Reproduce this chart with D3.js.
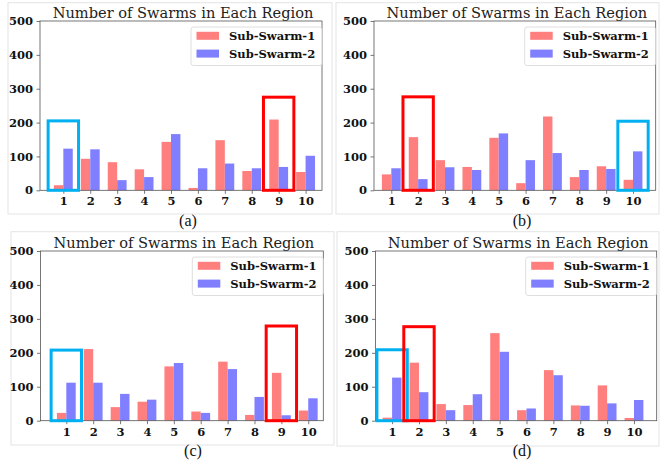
<!DOCTYPE html>
<html>
<head>
<meta charset="utf-8">
<script src="https://cdn.jsdelivr.net/npm/d3@7"></script>
<style>
  html, body { margin: 0; padding: 0; background: #fff; }
  svg { display: block; }
</style>
</head>
<body>
<svg id="chart" width="668" height="462"></svg>
<script>
// ---------------- data ----------------
const regions = [1, 2, 3, 4, 5, 6, 7, 8, 9, 10];
const seriesNames = ["Sub-Swarm-1", "Sub-Swarm-2"];
const yTicks = [0, 100, 200, 300, 400, 500];
const chartTitle = "Number of Swarms in Each Region";
const captions = ["(a)", "(b)", "(c)", "(d)"];

const swarm1A = [15, 93, 83, 62, 143, 7, 148, 57, 209, 54];
const swarm2A = [123, 121, 30, 39, 166, 65, 79, 65, 69, 102];
const swarm1B = [47, 157, 89, 69, 155, 21, 218, 39, 71, 31];
const swarm2B = [65, 33, 68, 60, 168, 89, 110, 60, 63, 115];
const swarm1C = [23, 211, 40, 56, 160, 27, 174, 17, 141, 30];
const swarm2C = [112, 112, 79, 62, 170, 23, 152, 70, 16, 66];
const swarm1D = [9, 171, 49, 46, 258, 31, 149, 45, 104, 8];
const swarm2D = [127, 84, 31, 78, 203, 36, 134, 44, 51, 61];

// highlight boxes: [region, top value]
const blueBoxA = [1, 205], redBoxA = [9, 275];
const blueBoxB = [10, 204], redBoxB = [2, 276];
const blueBoxC = [1, 208], redBoxC = [9, 279];
const blueBoxD = [1, 209], redBoxD = [2, 277];

// ---------------- layout ----------------
const panels = [
  { s1: swarm1A, s2: swarm2A, boxes: [[blueBoxA, "#00b0f0"], [redBoxA, "#ff0000"]],
    frame: [8, 2.7, 332, 214], plot: [40, 21, 322, 190.3], xdom: [0.133, 10.61], cap: [188, 221] },
  { s1: swarm1B, s2: swarm2B, boxes: [[blueBoxB, "#00b0f0"], [redBoxB, "#ff0000"]],
    frame: [336, 2.7, 659, 214], plot: [374, 21, 655.7, 190.3], xdom: [0.356, 10.845], cap: [522, 221] },
  { s1: swarm1C, s2: swarm2C, boxes: [[blueBoxC, "#00b0f0"], [redBoxC, "#ff0000"]],
    frame: [11, 231.7, 334, 445], plot: [40.5, 251, 323.3, 420.7], xdom: [0.04, 10.56], cap: [193, 450.5] },
  { s1: swarm1D, s2: swarm2D, boxes: [[blueBoxD, "#00b0f0"], [redBoxD, "#ff0000"]],
    frame: [337, 231.7, 659, 446], plot: [375.5, 251, 656.7, 420.7], xdom: [0.382, 10.845], cap: [522, 450.5] }
];

const colors = ["#ff7f7f", "#7f7fff"];
const barW = 0.35;
const serif = "'DejaVu Serif', serif";
const svg = d3.select("#chart");

panels.forEach((p, idx) => {
  const [x0, y0, x1, y1] = p.plot;
  const g = svg.append("g");

  // frame of sub-figure
  g.append("rect")
    .attr("x", p.frame[0]).attr("y", p.frame[1])
    .attr("width", p.frame[2] - p.frame[0]).attr("height", p.frame[3] - p.frame[1])
    .attr("fill", "none").attr("stroke", "#e4e4e4").attr("stroke-width", 1);

  const x = d3.scaleLinear().domain(p.xdom).range([x0, x1]);
  const y = d3.scaleLinear().domain([0, 500]).range([y1, y0]);

  // bars
  [p.s1, p.s2].forEach((vals, si) => {
    g.selectAll(null).data(vals).enter().append("rect")
      .attr("x", (d, i) => x(regions[i] + (si === 0 ? -barW : 0)))
      .attr("width", (d, i) => x(regions[i] + barW) - x(regions[i]))
      .attr("y", d => y(d))
      .attr("height", d => y(0) - y(d))
      .attr("fill", colors[si]);
  });

  // axes
  const yAxis = d3.axisLeft(y).tickValues(yTicks).tickSize(3.5).tickPadding(3.5).tickSizeOuter(0);
  const xAxis = d3.axisBottom(x).tickValues(regions).tickSize(3.5).tickPadding(3.5).tickSizeOuter(0)
    .tickFormat(d3.format("d"));
  const ya = g.append("g").attr("transform", `translate(${x0},0)`).call(yAxis);
  const xa = g.append("g").attr("transform", `translate(0,${y1})`).call(xAxis);
  [ya, xa].forEach(a => {
    a.select(".domain").remove();
    a.selectAll("line").attr("stroke", "#555").attr("stroke-width", 0.8);
    a.selectAll("text").attr("fill", "#111").style("font-family", serif)
      .style("font-weight", "bold").style("font-size", "11.5px");
  });
  // spines
  g.append("rect").attr("x", x0).attr("y", y0).attr("width", x1 - x0).attr("height", y1 - y0)
    .attr("fill", "none").attr("stroke", "#555").attr("stroke-width", 0.8);

  // highlight boxes
  p.boxes.forEach(([b, col]) => {
    g.append("rect")
      .attr("x", x(b[0] - 0.565)).attr("width", x(b[0] + 0.565) - x(b[0] - 0.565))
      .attr("y", y(b[1])).attr("height", y(0) - y(b[1]))
      .attr("fill", "none").attr("stroke", col).attr("stroke-width", 3);
  });

  // title
  g.append("text").attr("x", (x0 + x1) / 2 + 2).attr("y", y0 - 3.5)
    .attr("text-anchor", "middle")
    .style("font-family", serif).style("font-size", "14.6px").attr("fill", "#222")
    .text(chartTitle);

  // legend
  const lw = 131, lh = 38.5;
  const lx = x1 - lw, ly = y0 + 6;
  const leg = g.append("g");
  leg.append("rect").attr("x", lx).attr("y", ly).attr("width", lw).attr("height", lh)
    .attr("rx", 2.5).attr("fill", "#fff").attr("fill-opacity", 0.8)
    .attr("stroke", "#d6d6d6").attr("stroke-width", 0.8);
  seriesNames.forEach((name, i) => {
    const cy = ly + 8.8 + i * 17.8;
    leg.append("rect").attr("x", lx + 5.5).attr("y", cy - 4).attr("width", 22.5).attr("height", 8)
      .attr("fill", colors[i]);
    leg.append("text").attr("x", lx + 38).attr("y", cy + 4)
      .style("font-family", serif).style("font-weight", "bold").style("font-size", "11.5px")
      .attr("fill", "#111").text(name);
  });

  // caption
  g.append("text").attr("x", p.cap[0]).attr("y", p.cap[1] + 5)
    .attr("text-anchor", "middle")
    .style("font-family", "'Liberation Serif', 'Times New Roman', serif").style("font-size", "16px")
    .attr("fill", "#111").text(captions[idx]);
});
</script>
</body>
</html>
